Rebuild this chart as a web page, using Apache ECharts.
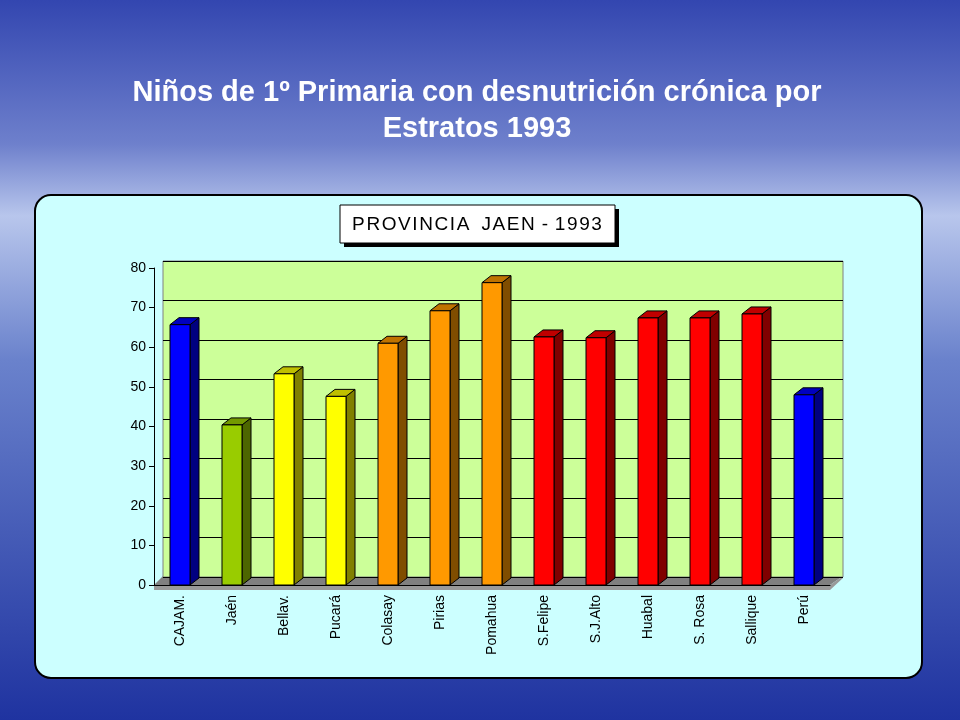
<!DOCTYPE html>
<html><head><meta charset="utf-8">
<script src="https://cdn.jsdelivr.net/npm/echarts@6/dist/echarts.min.js"></script>
<style>html,body{margin:0;padding:0}#c{width:960px;height:720px}</style>
</head><body><div id="c"></div>
<script>
var categories = ['CAJAM.', 'Jaén', 'Bellav.', 'Pucará', 'Colasay', 'Pirias', 'Pomahua', 'S.Felipe', 'S.J.Alto', 'Huabal', 'S. Rosa', 'Sallique', 'Perú'];
var values = [65.7, 40.4, 53.3, 47.6, 61, 69.2, 76.3, 62.6, 62.4, 67.4, 67.4, 68.4, 48];
var colors = ['#0000ff', '#99cc00', '#ffff00', '#ffff00', '#ff9900', '#ff9900', '#ff9900', '#ff0000', '#ff0000', '#ff0000', '#ff0000', '#ff0000', '#0000ff'];
var yTicks = [0, 10, 20, 30, 40, 50, 60, 70, 80];

var DX = 9, DY = 7, HALF = 10;

function shade(hex, f) {
  var n = parseInt(hex.slice(1), 16);
  var r = Math.round(((n >> 16) & 255) * f), g = Math.round(((n >> 8) & 255) * f), b = Math.round((n & 255) * f);
  return 'rgb(' + r + ',' + g + ',' + b + ')';
}

var chart = echarts.init(document.getElementById('c'));
chart.setOption({
  backgroundColor: new echarts.graphic.LinearGradient(0, 0, 0, 1, [
    {offset: 0, color: '#3346b0'},
    {offset: 0.2, color: '#6e80cc'},
    {offset: 0.3, color: '#b8c6ec'},
    {offset: 0.5, color: '#6a82cc'},
    {offset: 1, color: '#1f33a0'}
  ]),
  title: {
    text: 'Niños de 1º Primaria con desnutrición crónica por\nEstratos 1993',
    left: 472, top: 70, textAlign: 'center',
    textStyle: {color: '#fff', fontFamily: 'Liberation Sans, Arial', fontSize: 29, fontWeight: 'bold', lineHeight: 36}
  },
  graphic: [
    {type: 'rect', shape: {x: 35, y: 195, width: 887, height: 483, r: 16}, style: {fill: '#ccffff', stroke: '#000', lineWidth: 2}, z: -10},
    {type: 'rect', shape: {x: 344, y: 209, width: 275, height: 38}, style: {fill: '#000'}, z: -9},
    {type: 'rect', shape: {x: 340, y: 205, width: 275, height: 38}, style: {fill: '#fff', stroke: '#000', lineWidth: 1}, z: -8},
    {type: 'text', x: 477, y: 225, style: {text: 'P R O V I N C I A   J A E N  -  1 9 9 3'.replace(/ (?! )/g, '\u200a'), fill: '#000', font: '19px Liberation Sans, Arial', align: 'center', verticalAlign: 'middle'}, z: -7},
    {type: 'polygon', shape: {points: [[154, 585], [163, 576], [843, 576], [830, 585]]}, style: {fill: '#808080'}, z: -6},
    {type: 'polygon', shape: {points: [[154, 585], [830, 585], [843, 576], [843, 578], [830, 590], [154, 590]]}, style: {fill: '#999'}, z: -6}
  ],
  grid: [
    {left: 163, width: 680, top: 261, height: 316, show: true, backgroundColor: '#ccff99', borderColor: '#808080', borderWidth: 1, z: -5},
    {left: 154, width: 676, top: 268, height: 317}
  ],
  xAxis: [
    {gridIndex: 0, type: 'category', data: categories, show: false},
    {gridIndex: 1, type: 'category', data: categories, axisTick: {show: false}, axisLine: {lineStyle: {color: '#000'}},
      axisLabel: {rotate: 90, color: '#000', fontFamily: 'Liberation Sans, Arial', fontSize: 14, margin: 10}}
  ],
  yAxis: [
    {gridIndex: 0, type: 'value', min: 0, max: 80, interval: 10, axisLabel: {show: false}, axisLine: {show: false}, axisTick: {show: false},
      splitLine: {lineStyle: {color: '#000', width: 1}}},
    {gridIndex: 1, type: 'value', min: 0, max: 80, interval: 10, splitLine: {show: false},
      axisLine: {show: true, lineStyle: {color: '#000'}}, axisTick: {show: true, inside: false, length: 5},
      axisLabel: {color: '#000', fontFamily: 'Liberation Sans, Arial', fontSize: 14, formatter: function (v) { return yTicks.indexOf(v) >= 0 ? String(v) : ''; }}}
  ],
  series: [{
    type: 'custom', xAxisIndex: 1, yAxisIndex: 1,
    data: values.map(function (v, i) { return [i, v]; }),
    renderItem: function (params, api) {
      var i = api.value(0);
      var top = api.coord([i, api.value(1)]);
      var base = api.coord([i, 0]);
      var x0 = top[0] - HALF, x1 = top[0] + HALF, y0 = top[1], y1 = base[1];
      var c = colors[i];
      var st = {stroke: '#000', lineWidth: 1};
      return {type: 'group', children: [
        {type: 'polygon', shape: {points: [[x1, y0], [x1 + DX, y0 - DY], [x1 + DX, y1 - DY], [x1, y1]]}, style: Object.assign({fill: shade(c, 0.5)}, st)},
        {type: 'polygon', shape: {points: [[x0, y0], [x0 + DX, y0 - DY], [x1 + DX, y0 - DY], [x1, y0]]}, style: Object.assign({fill: shade(c, 0.75)}, st)},
        {type: 'rect', shape: {x: x0, y: y0, width: x1 - x0, height: y1 - y0}, style: Object.assign({fill: c}, st)}
      ]};
    }
  }]
});
</script></body></html>
